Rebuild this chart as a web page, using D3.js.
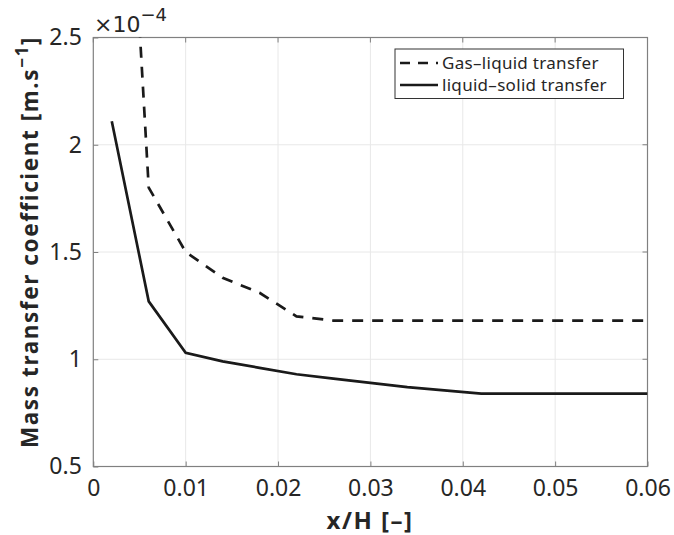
<!DOCTYPE html>
<html>
<head>
<meta charset="utf-8">
<script src="https://cdn.jsdelivr.net/npm/d3@7"></script>
<style>
  html, body { margin: 0; padding: 0; background: #fff; }
  svg { display: block; }
  text { fill: #262626; }
</style>
</head>
<body>
<svg id="chart" width="674" height="535"></svg>
<script>
// Position along the bed (x/H) and mass transfer coefficients (×10^-4 m/s)
const gasLiquidX = [0.005, 0.006, 0.010, 0.014, 0.018, 0.022, 0.026, 0.030, 0.040, 0.050, 0.060];
const gasLiquidK = [2.55, 1.80, 1.50, 1.38, 1.31, 1.20, 1.18, 1.18, 1.18, 1.18, 1.18];
const liquidSolidX = [0.002, 0.006, 0.010, 0.014, 0.018, 0.022, 0.026, 0.030, 0.034, 0.038, 0.042, 0.050, 0.060];
const liquidSolidK = [2.11, 1.27, 1.03, 0.99, 0.96, 0.93, 0.91, 0.89, 0.87, 0.855, 0.84, 0.84, 0.84];

const xTicks = [0, 0.01, 0.02, 0.03, 0.04, 0.05, 0.06];
const yTicks = [0.5, 1, 1.5, 2, 2.5];
const seriesNames = ["Gas\u2013liquid transfer", "liquid\u2013solid transfer"];

const svg = d3.select("#chart");
const m = { left: 93.3, right: 647.5, top: 37.5, bottom: 466.5 };
const sans = "'Noto Sans', 'DejaVu Sans', sans-serif";

const x = d3.scaleLinear().domain([0, 0.06]).range([m.left, m.right]);
const y = d3.scaleLinear().domain([0.5, 2.5]).range([m.bottom, m.top]);

// Grid
const grid = svg.append("g");
grid.selectAll(".gx").data(xTicks.slice(1, -1)).join("line")
  .attr("x1", d => x(d)).attr("x2", d => x(d))
  .attr("y1", m.top).attr("y2", m.bottom)
  .attr("stroke", "#e8e8e8").attr("stroke-width", 1);
grid.selectAll(".gy").data(yTicks.slice(1, -1)).join("line")
  .attr("x1", m.left).attr("x2", m.right)
  .attr("y1", d => y(d)).attr("y2", d => y(d))
  .attr("stroke", "#e8e8e8").attr("stroke-width", 1);

// Axes with inward ticks
const axisColor = "#808080";
const xAxis = svg.append("g").attr("transform", `translate(0,${m.bottom})`)
  .call(d3.axisBottom(x).tickValues(xTicks).tickFormat(d => d === 0 ? "0" : d3.format(".2f")(d))
    .tickSizeInner(-5).tickSizeOuter(0).tickPadding(13.5));
const yAxis = svg.append("g").attr("transform", `translate(${m.left},0)`)
  .call(d3.axisLeft(y).tickValues(yTicks).tickFormat(d => d3.format("")(d))
    .tickSizeInner(-5).tickSizeOuter(0).tickPadding(11.5));
[xAxis, yAxis].forEach(a => {
  a.select(".domain").remove();
  a.selectAll("line").attr("stroke", axisColor);
  a.selectAll("text").style("font-size", "23px").style("font-family", sans).attr("fill", "#262626");
});
xAxis.selectAll("text").attr("dy", "0.71em");

// Top/right ticks
svg.append("g").selectAll("line").data(xTicks).join("line")
  .attr("x1", d => x(d)).attr("x2", d => x(d))
  .attr("y1", m.top).attr("y2", m.top + 5).attr("stroke", axisColor);
svg.append("g").selectAll("line").data(yTicks).join("line")
  .attr("x1", m.right - 5).attr("x2", m.right)
  .attr("y1", d => y(d)).attr("y2", d => y(d)).attr("stroke", axisColor);

// Box
svg.append("rect").attr("x", m.left).attr("y", m.top)
  .attr("width", m.right - m.left).attr("height", m.bottom - m.top)
  .attr("fill", "none").attr("stroke", axisColor).attr("stroke-width", 1.2);

// Exponent label
const expo = svg.append("text").attr("x", 94).attr("y", 32)
  .style("font-size", "22px").style("font-family", "'DejaVu Sans', sans-serif");
expo.append("tspan").text("\u00d710");
expo.append("tspan").attr("dy", -11).style("font-size", "18px").text("\u22124");

// Lines
svg.append("clipPath").attr("id", "plotclip").append("rect")
  .attr("x", m.left).attr("y", m.top).attr("width", m.right - m.left).attr("height", m.bottom - m.top);
const line = d3.line().x(d => x(d[0])).y(d => y(d[1]));
const plot = svg.append("g").attr("clip-path", "url(#plotclip)");
plot.append("path").datum(d3.zip(gasLiquidX, gasLiquidK)).attr("d", line)
  .attr("fill", "none").attr("stroke", "#1a1a1a").attr("stroke-width", 2.7)
  .attr("stroke-dasharray", "11,9");
plot.append("path").datum(d3.zip(liquidSolidX, liquidSolidK)).attr("d", line)
  .attr("fill", "none").attr("stroke", "#1a1a1a").attr("stroke-width", 2.7);

// Legend
const lg = svg.append("g");
lg.append("rect").attr("x", 395).attr("y", 49).attr("width", 228.5).attr("height", 49.5)
  .attr("fill", "#fff").attr("stroke", "#333").attr("stroke-width", 1);
[0, 1].forEach(i => {
  const cy = 63 + i * 22;
  lg.append("line").attr("x1", 400).attr("x2", 438).attr("y1", cy).attr("y2", cy)
    .attr("stroke", "#1a1a1a").attr("stroke-width", 2.7)
    .attr("stroke-dasharray", i === 0 ? "10,8" : null);
  lg.append("text").attr("x", 442).attr("y", cy).attr("dy", "0.35em")
    .style("font-size", "17px").style("font-family", sans)
    .attr("letter-spacing", 0.3).text(seriesNames[i]);
});

// Axis titles
svg.append("text").attr("x", 370).attr("y", 529)
  .attr("text-anchor", "middle").style("font-size", "24px").style("font-weight", "bold")
  .style("font-family", sans).attr("letter-spacing", 1.5)
  .text("x/H [\u2013]");
const yl = svg.append("text").attr("transform", "translate(38,242) rotate(-90)")
  .attr("text-anchor", "middle").style("font-size", "22.5px").style("font-weight", "bold")
  .style("font-family", sans).attr("letter-spacing", 1.6);
yl.append("tspan").text("Mass transfer coefficient [m.s");
yl.append("tspan").attr("dy", -10).style("font-size", "17px").text("\u22121");
yl.append("tspan").attr("dy", 10).text("]");
</script>
</body>
</html>
